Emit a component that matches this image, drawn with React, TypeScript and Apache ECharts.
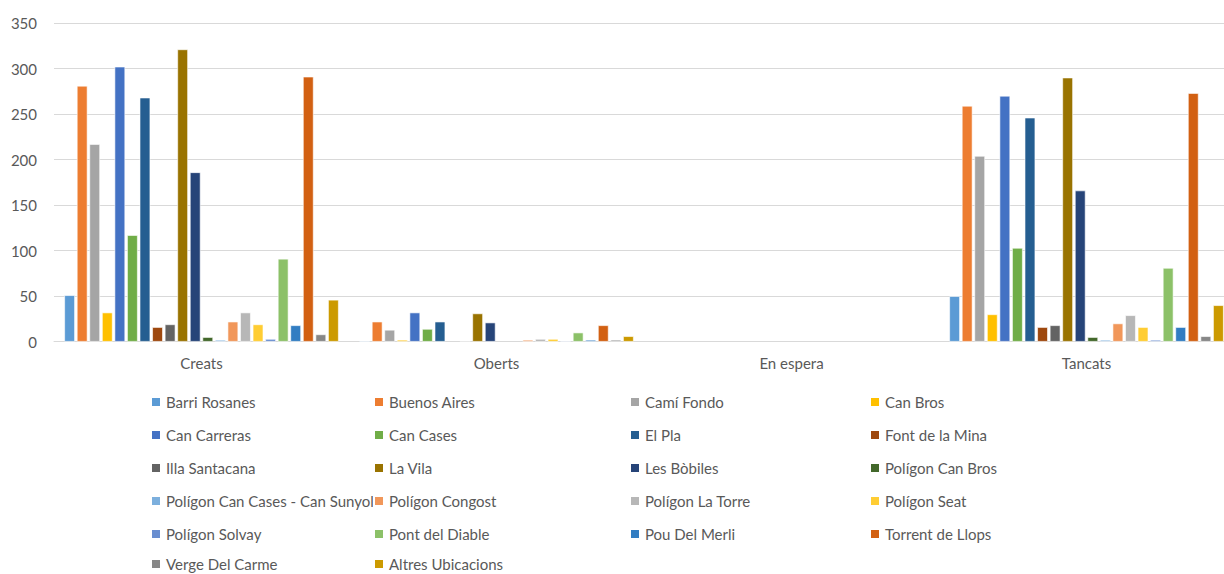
import React, { useEffect, useRef } from "react";
import * as echarts from "echarts";

const categories = ["Creats", "Oberts", "En espera", "Tancats"];

const seriesNames = [
  "Barri Rosanes", "Buenos Aires", "Camí Fondo", "Can Bros",
  "Can Carreras", "Can Cases", "El Pla", "Font de la Mina",
  "Illa Santacana", "La Vila", "Les Bòbiles", "Polígon Can Bros",
  "Polígon Can Cases - Can Sunyol", "Polígon Congost", "Polígon La Torre", "Polígon Seat",
  "Polígon Solvay", "Pont del Diable", "Pou Del Merli", "Torrent de Llops",
  "Verge Del Carme", "Altres Ubicacions",
];

const creats = [51, 281, 217, 32, 302, 117, 268, 16, 19, 321, 186, 5, 2, 22, 32, 19, 3, 91, 18, 291, 8, 46];
const oberts = [1, 22, 13, 2, 32, 14, 22, 0, 1, 31, 21, 0, 0, 2, 3, 3, 1, 10, 2, 18, 2, 6];
const enEspera = [0, 0, 0, 0, 0, 0, 0, 0, 0, 0, 0, 0, 0, 0, 0, 0, 0, 0, 0, 0, 0, 0];
const tancats = [50, 259, 204, 30, 270, 103, 246, 16, 18, 290, 166, 5, 2, 20, 29, 16, 2, 81, 16, 273, 6, 40];

const colors = [
  "#5B9BD5", "#ED7D31", "#A5A5A5", "#FFC000", "#4472C4", "#70AD47",
  "#255E91", "#9E480E", "#636363", "#997300", "#264478", "#43682B",
  "#7CAFDD", "#F1975A", "#B7B7B7", "#FFCD33", "#698ED0", "#8CC168",
  "#327DC2", "#D26012", "#878787", "#CC9A00",
];

const yTicks = { min: 0, max: 350, interval: 50 };

const FONT = "Lato";
const TEXT_COLOR = "#595959";

export default function App() {
  const ref = useRef<HTMLDivElement>(null);
  useEffect(() => {
    if (!ref.current) return;
    const chart = echarts.init(ref.current, null, { renderer: "svg" });
    const series = seriesNames.map((name, i) => ({
      name,
      type: "bar",
      data: [creats[i], oberts[i], enEspera[i], tancats[i]].map((v) => (v === 0 ? null : v)),
      itemStyle: { color: colors[i], borderColor: "#ffffff", borderWidth: 0.6 },
      barGap: "19%",
      barCategoryGap: "7%",
    }));
    const colX = [150, 373, 629, 869];
    const legendBase = {
      orient: "vertical",
      itemWidth: 10,
      itemHeight: 10,
      itemGap: 17,
      icon: "rect",
      padding: 0,
      textStyle: { fontFamily: FONT, fontSize: 15, color: TEXT_COLOR, lineHeight: 16 },
      selectedMode: false,
    };
    const legends: any[] = [];
    for (let c = 0; c < 4; c++) {
      const data = seriesNames.filter((_, i) => i % 4 === c && i < 20);
      legends.push({ ...legendBase, data, left: colX[c], top: 394 });
    }
    seriesNames.forEach((name, i) => {
      if (i >= 20) legends.push({ ...legendBase, data: [name], left: colX[i % 4], top: 556 });
    });
    chart.setOption({
      animation: false,
      color: colors,
      textStyle: { fontFamily: FONT },
      grid: { left: 54, top: 23, width: 1180, height: 318.7, containLabel: false },
      legend: legends,
      xAxis: {
        type: "category",
        data: categories,
        axisLine: { lineStyle: { color: "#D9D9D9", width: 1 } },
        axisTick: { show: false },
        axisLabel: { fontFamily: FONT, fontSize: 15, color: TEXT_COLOR, margin: 14 },
      },
      yAxis: {
        type: "value",
        min: yTicks.min,
        max: yTicks.max,
        interval: yTicks.interval,
        axisLine: { show: false },
        axisTick: { show: false },
        axisLabel: { fontFamily: FONT, fontSize: 15, color: TEXT_COLOR, margin: 17 },
        splitLine: { lineStyle: { color: "#D9D9D9", width: 1 } },
      },
      series,
    });
    return () => chart.dispose();
  }, []);
  return (
    <div
      style={{
        position: "absolute",
        left: 0,
        top: 0,
        width: 1224,
        height: 574,
        overflow: "hidden",
        background: "#ffffff",
      }}
    >
      <div ref={ref} style={{ width: 1240, height: 574 }} />
    </div>
  );
}
